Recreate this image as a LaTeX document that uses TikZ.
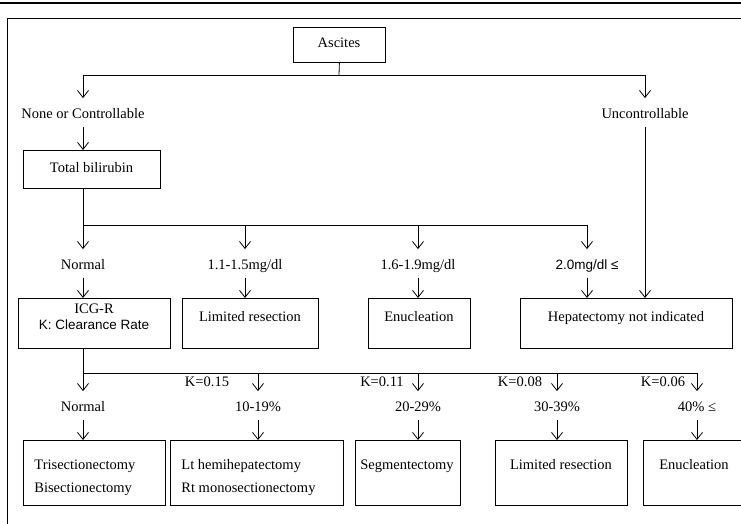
\documentclass[tikz,border=0pt]{standalone}
\usepackage{fontspec}
\setmainfont{Liberation Serif}
\newfontfamily\sansf{Liberation Sans}
\usetikzlibrary{arrows.meta}
\begin{document}
\begin{tikzpicture}[x=1pt,y=-1pt,line width=0.8pt,
  box/.style={draw,rectangle,inner sep=0pt,anchor=north west},
  lbl/.style={inner sep=1pt,text height=10pt,text depth=3pt,font=\fontsize{14.5}{17}\selectfont},
  arr/.style={-{Straight Barb[length=7pt,width=11pt,line width=0.8pt]}},
  intol/.style={arr,shorten >=9pt},
  froml/.style={arr,shorten <=4pt}]
\useasboundingbox (0,0) rectangle (741,524);
% frame
\draw[line width=2pt] (0,3) -- (741,3);
\draw (7,524) -- (7,18) -- (741,18);

% level 1
\node[box,minimum width=92pt,minimum height=35pt] (asc) at (293,27) {};
\node[lbl] (tasc) at (339,44.5) {Ascites};
\coordinate (j1) at (339,75);
\node[lbl] (none) at (83,115) {None or Controllable};
\node[lbl] (unc) at (645,115) {Uncontrollable};
\draw (asc.south) -- (j1);
\draw[intol] (j1) -| (none.north);
\draw[intol] (j1) -| (unc.north);

\node[box,minimum width=137pt,minimum height=38pt] (tb) at (23,150) {};
\node[lbl] (ttb) at (91.5,169) {Total bilirubin};
\draw[froml] (none.south) -- (none.south |- tb.north);

% level 2
\coordinate (j2) at (83,225);
\node[lbl] (nor1) at (83,266) {Normal};
\node[lbl] (b11) at (245,266) {1.1-1.5mg/dl};
\node[lbl] (b16) at (418,266) {1.6-1.9mg/dl};
\node[lbl] (b20) at (587,266) {\sansf\fontsize{13.5}{16}\selectfont 2.0mg/dl ≤};
\draw (j2 |- tb.south) -- (j2) -- (j2 -| b20.north);
\draw[intol] (j2) -- (nor1.north);
\draw[intol] (j2 -| b11.north) -- (b11.north);
\draw[intol] (j2 -| b16.north) -- (b16.north);
\draw[intol] (j2 -| b20.north) -- (b20.north);

\node[box,minimum width=152pt,minimum height=50pt] (icg) at (18,298) {};
\node[box,minimum width=136pt,minimum height=50pt] (lim1) at (182,298) {};
\node[box,minimum width=102pt,minimum height=50pt] (enu1) at (368,298) {};
\node[box,minimum width=212pt,minimum height=50pt] (hep) at (520,298) {};
\node[lbl] (ticg1) at (94,310) {ICG-R};
\node[lbl] (ticg2) at (94,326) {\sansf\fontsize{13.5}{16}\selectfont K: Clearance Rate};
\node[lbl] (tlim1) at (250,318) {Limited resection};
\node[lbl] (tenu1) at (419,318) {Enucleation};
\node[lbl] (thep) at (626,318) {Hepatectomy not indicated};
\draw[froml] (nor1.south) -- (nor1.south |- icg.north);
\draw[froml] (b11.south) -- (b11.south |- lim1.north);
\draw[froml] (b16.south) -- (b16.south |- enu1.north);
\draw[froml] (b20.south) -- (b20.south |- hep.north);
\draw[froml] (unc.south) -- (unc.south |- hep.north);

% level 3
\coordinate (j3) at (83,373);
\node[lbl] (nor2) at (83,408) {Normal};
\node[lbl] (p10) at (258,408) {10-19\%};
\node[lbl] (p20) at (418,408) {20-29\%};
\node[lbl] (p30) at (557,408) {30-39\%};
\node[lbl] (p40) at (697,408) {40\% ≤};
\node[lbl] (k15) at (207,383) {K=0.15};
\node[lbl] (k11) at (382,383) {K=0.11};
\node[lbl] (k08) at (520,383) {K=0.08};
\node[lbl] (k06) at (663,383) {K=0.06};
\draw (j3 |- icg.south) -- (j3) -- (j3 -| p40.north);
\draw[intol] (j3) -- (nor2.north);
\draw[intol] (j3 -| p10.north) -- (p10.north);
\draw[intol] (j3 -| p20.north) -- (p20.north);
\draw[intol] (j3 -| p30.north) -- (p30.north);
\draw[intol] (j3 -| p40.north) -- (p40.north);

\node[box,minimum width=142pt,minimum height=65pt] (r1) at (23,440) {};
\node[box,minimum width=173pt,minimum height=65pt] (r2) at (170,440) {};
\node[box,minimum width=105pt,minimum height=65pt] (r3) at (355,440) {};
\node[box,minimum width=132pt,minimum height=65pt] (r4) at (495,440) {};
\node[box,minimum width=110pt,minimum height=65pt] (r5) at (643,440) {};
\node[lbl,anchor=west] (tr1a) at (33,466) {Trisectionectomy};
\node[lbl,anchor=west] (tr1b) at (33,489) {Bisectionectomy};
\node[lbl,anchor=west] (tr2a) at (180,466) {Lt hemihepatectomy};
\node[lbl,anchor=west] (tr2b) at (180,489) {Rt monosectionectomy};
\node[lbl] (tr3) at (407,466) {Segmentectomy};
\node[lbl] (tr4) at (561,466) {Limited resection};
\node[lbl] (tr5) at (694,466) {Enucleation};
\draw[froml] (nor2.south) -- (nor2.south |- r1.north);
\draw[froml] (p10.south) -- (p10.south |- r2.north);
\draw[froml] (p20.south) -- (p20.south |- r3.north);
\draw[froml] (p30.south) -- (p30.south |- r4.north);
\draw[froml] (p40.south) -- (p40.south |- r5.north);
\end{tikzpicture}
\end{document}
